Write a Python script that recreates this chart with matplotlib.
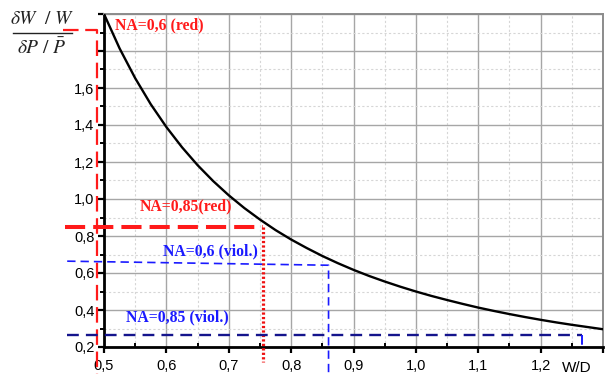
import numpy as np
import matplotlib.pyplot as plt
from matplotlib.ticker import MultipleLocator, FixedLocator
from matplotlib.lines import Line2D

# curve
wd = [0.5, 0.525, 0.55, 0.575, 0.6, 0.625, 0.65, 0.675, 0.7, 0.725, 0.75,
      0.775, 0.8, 0.825, 0.85, 0.875, 0.9, 0.925, 0.95, 0.975, 1.0, 1.025,
      1.05, 1.075, 1.1, 1.125, 1.15, 1.175, 1.2, 1.225, 1.25, 1.275, 1.3]
ratio = [2.000, 1.814, 1.653, 1.512, 1.389, 1.280, 1.183, 1.097, 1.020, 0.951,
         0.889, 0.832, 0.781, 0.735, 0.692, 0.653, 0.617, 0.584, 0.554, 0.526,
         0.500, 0.476, 0.454, 0.433, 0.413, 0.395, 0.378, 0.362, 0.347, 0.333,
         0.320, 0.308, 0.296]

# marker lines (x, y) for the four NA cases
na06_red_x = [0.434, 0.489, 0.489]
na06_red_y = [1.913, 1.913, 0.053]
na085_red_x = [0.437, 0.755]
na085_red_y = [0.849, 0.849]
na085_red_vx = [0.755, 0.755]
na085_red_vy = [0.849, 0.118]
na06_viol_x = [0.441, 0.86, 0.86]
na06_viol_y = [0.664, 0.642, 0.053]
na085_viol_x = [0.441, 1.267]
na085_viol_y = [0.265, 0.265]
na085_viol_vx = [1.267, 1.267]
na085_viol_vy = [0.265, 0.184]

xticks = [0.5, 0.6, 0.7, 0.8, 0.9, 1.0, 1.1, 1.2, 1.3]
xlabels = ['0,5', '0,6', '0,7', '0,8', '0,9', '1,0', '1,1', '1,2', '']
yticks = [0.2, 0.4, 0.6, 0.8, 1.0, 1.2, 1.4, 1.6, 1.8, 2.0]
ylabels = ['0,2', '0,4', '0,6', '0,8', '1,0', '1,2', '1,4', '1,6', '', '']

plt.rcParams['font.family'] = 'Liberation Sans'
plt.rcParams['mathtext.fontset'] = 'stix'

fig = plt.figure(figsize=(6.06, 3.74), dpi=100)
ax = fig.add_axes([104/606, 27/374, 499/606, 333/374])
ax.set_xlim(0.5, 1.3)
ax.set_ylim(0.2, 2.0)

ax.xaxis.set_major_locator(FixedLocator(xticks))
ax.yaxis.set_major_locator(FixedLocator(yticks))
ax.xaxis.set_minor_locator(MultipleLocator(0.05))
ax.yaxis.set_minor_locator(MultipleLocator(0.1))
ax.set_xticklabels(xlabels)
ax.set_yticklabels(ylabels)
ax.grid(True, which='major', color='#a6a6a6', lw=1.0)
ax.grid(True, which='minor', color='#d6d6d6', lw=0.8, ls=(0, (2, 2)))
ax.set_axisbelow(True)

ax.tick_params(axis='both', which='major', labelsize=10.5, width=1.6, length=4,
               direction='out', colors='black')
ax.tick_params(axis='x', which='minor', direction='in', width=1.4, length=3)
ax.tick_params(axis='y', which='minor', direction='out', width=1.4, length=3)
ax.tick_params(axis='x', which='major', pad=5)
ax.tick_params(axis='y', which='major', pad=3)

for s in ['left', 'bottom']:
    ax.spines[s].set_linewidth(2)
    ax.spines[s].set_color('black')
for s in ['top', 'right']:
    ax.spines[s].set_linewidth(1.4)
    ax.spines[s].set_color('#8c8c8c')

ax.plot(wd, ratio, color='black', lw=1.7, zorder=5)

ax.plot(na06_red_x, na06_red_y, color='#ff1a1a', lw=1.6, dashes=(7, 3),
        clip_on=False, zorder=6)
ax.plot(na085_red_x, na085_red_y, color='#ff1a1a', lw=2.9, dashes=(5, 2),
        clip_on=False, zorder=6)
ax.plot(na085_red_vx, na085_red_vy, color='#ee1111', lw=2.3, dashes=(0.7, 0.7),
        clip_on=False, zorder=6)
ax.plot(na06_viol_x, na06_viol_y, color='#1a1aff', lw=1.2, dashes=(5, 3),
        clip_on=False, zorder=6)
ax.plot(na085_viol_x, na085_viol_y, color='#14148c', lw=1.7, dashes=(5, 3),
        clip_on=False, zorder=6)
ax.plot(na085_viol_vx, na085_viol_vy, color='#1a1aff', lw=1.4, dashes=(5, 3),
        clip_on=False, zorder=6)

txt = dict(family='Liberation Serif', fontweight='bold', fontsize=11.3,
           va='center', ha='left', zorder=7)
ax.text(0.517, 1.94, 'NA=0,6 (red)', color='#ff1a1a', **txt)
ax.text(0.557, 0.958, 'NA=0,85(red)', color='#ff1a1a', **txt)
ax.text(0.594, 0.718, 'NA=0,6 (viol.)', color='#1a1aff', **txt)
ax.text(0.536, 0.358, 'NA=0,85 (viol.)', color='#1a1aff', **txt)

fig.text(577/606, 1 - 368/374, 'W/D', fontsize=11, ha='center', va='center')

# y label as a hand-made fraction
fig.text(42/606, 1 - 19/374, r'$\delta W\ \ /\ W$', fontsize=14,
         ha='center', va='center', color='#222222')
fig.text(42/606, 1 - 48/374, r'$\delta P\ /\ \bar{P}$', fontsize=14,
         ha='center', va='center', color='#222222')
fig.add_artist(Line2D([13/606, 72/606], [1 - 33/374, 1 - 33/374],
                      color='#222222', lw=1.0))

plt.savefig('out.png', dpi=100)
